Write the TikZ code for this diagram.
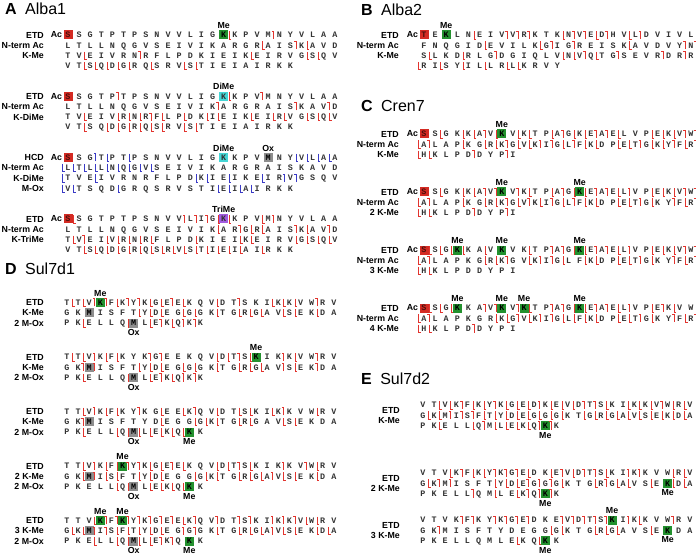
\documentclass[tikz,border=0pt]{standalone}
\usepackage{fontspec}
\setmainfont{Liberation Sans}
\newfontfamily\resfont{Liberation Mono}
\usetikzlibrary{positioning}

\definecolor{acred}{HTML}{D42B23}
\definecolor{megreen}{HTML}{23912E}
\definecolor{dimecyan}{HTML}{45D6D6}
\definecolor{trimepurple}{HTML}{A25BE0}
\definecolor{oxgray}{HTML}{8E8E8E}
\definecolor{etdred}{HTML}{E2342E}
\definecolor{hcdblue}{HTML}{3A3AC6}

% residue counter and box code of the next residue
\newcount\rescol
\newcount\boxcode
\def\resdx{11.12}
\def\fragh{3.9}
\def\fragw{2.2}
\def\fragcolor{etdred}

\tikzset{
  % one residue letter
  res/.style={font=\resfont\bfseries\fontsize{8.4}{9}\selectfont, text=black!80,
    inner sep=0pt, minimum width=9pt, minimum height=9pt, text height=5.6pt, text depth=0pt},
  % coloured box of a modified residue
  res box/.code={\ifcase\boxcode
    \or\pgfkeysalso{fill=acred, text=acred!35!black}%
    \or\pgfkeysalso{fill=megreen, text=black}%
    \or\pgfkeysalso{fill=dimecyan}%
    \or\pgfkeysalso{fill=trimepurple}%
    \or\pgfkeysalso{fill=oxgray, text=black}\fi},
  % fragment ion marks
  frag/.style={draw=\fragcolor, line width=0.75pt},
  rowlab/.style={font=\bfseries\fontsize{8.8}{10}\selectfont, anchor=east, inner sep=0pt},
  modlab/.style={font=\bfseries\fontsize{8.8}{10}\selectfont, inner sep=0pt},
  aclab/.style={font=\bfseries\fontsize{8.8}{10}\selectfont, inner sep=0pt},
  tag/.style={font=\bfseries\fontsize{16}{18}\selectfont, anchor=west, inner sep=0pt},
  protname/.style={font=\fontsize{16}{18}\selectfont, inner sep=0pt},
}

% one sequence row: name, x of first residue, y, residues
% upper case = residue, l = lower mark, u = upper mark, 1-5 = box of next residue
\newcommand\seqrow[4]{%
  \def\rowname{#1}\def\rowx{#2}\def\rowy{#3}%
  \global\rescol=0 \global\boxcode=0
  \readres#4\relax}
\def\readres#1{%
  \ifx#1\relax\let\seqnext\relax
  \else\def\seqnext{\doresidue#1\readres}\fi
  \seqnext}
\def\doresidue#1{%
  \if l#1\fraglo\else
  \if u#1\fragup\else
  \if 1#1\global\boxcode=1 \else
  \if 2#1\global\boxcode=2 \else
  \if 3#1\global\boxcode=3 \else
  \if 4#1\global\boxcode=4 \else
  \if 5#1\global\boxcode=5 \else
  \putres{#1}%
  \fi\fi\fi\fi\fi\fi\fi}
\newcommand\putres[1]{%
  \global\advance\rescol by 1
  \pgfmathsetmacro\rx{\rowx+(\the\rescol-1)*\resdx}%
  \node[res, res box] (\rowname c\the\rescol) at (\rx,\rowy) {#1};%
  \global\boxcode=0 }
\newcommand\fraglo{%
  \pgfmathsetmacro\mx{\rowx+(\the\rescol-0.5)*\resdx}%
  \draw[frag] (\mx,\rowy-\fragh) -- (\mx,\rowy+\fragh) -- ++(\fragw,0);}
\newcommand\fragup{%
  \pgfmathsetmacro\mx{\rowx+(\the\rescol-0.5)*\resdx}%
  \draw[frag] (\mx,\rowy+\fragh) -- (\mx,\rowy-\fragh) -- ++(-\fragw,0);}

\begin{document}
\begin{tikzpicture}[x=1pt,y=-1pt]
\useasboundingbox (0,0) rectangle (696,556);

%%%%% A  Alba1
\node[tag] (tagA) at (5,9) {A};
\node[protname, right=8pt of tagA] (nameA) {Alba1};

% ETD, K-Me
\seqrow{a1r1}{68}{35}{1SSGTPTPSNVVLIG2KlKPVMuNYVLAA}
\seqrow{a1r2}{68}{45.3}{LTLLNQGVSEIVIKARGRlAISuKlAVD}
\seqrow{a1r3}{68}{55.6}{TVlEIVRNuRFLPDKIEIKlEIRVGlSlQV}
\seqrow{a1r4}{68}{65.9}{VTlSlQlDlGlRQlSRVlSlTIEIAIRKK}
\node[aclab, left=1pt of a1r1c1] (acA1) {Ac};
\node[modlab, above=1.5pt of a1r1c15] (modA1) {Me};
\node[rowlab] (labA1a) at (44,35) {ETD};
\node[rowlab] (labA1b) at (44,45.3) {N-term Ac};
\node[rowlab] (labA1c) at (44,55.6) {K-Me};

% ETD, K-DiMe
\seqrow{a2r1}{68}{96.3}{1SSGTPuTPSNVVLIG3KlKPVuMNYVLAA}
\seqrow{a2r2}{68}{106.6}{LTLLNQGVSEIVIKuARGRAISuKAVuD}
\seqrow{a2r3}{68}{116.9}{TVlEIVlRlNlRuFlLPlDKlIlEIKlEIlRlVGlSlQlV}
\seqrow{a2r4}{68}{127.2}{VTlSQlDlGlRlQlSlRVlSlTIEIAIRKK}
\node[aclab, left=1pt of a2r1c1] (acA2) {Ac};
\node[modlab, above=1.5pt of a2r1c15] (modA2) {DiMe};
\node[rowlab] (labA2a) at (44,96.3) {ETD};
\node[rowlab] (labA2b) at (44,106.6) {N-term Ac};
\node[rowlab] (labA2c) at (44,116.9) {K-DiMe};

% HCD, K-DiMe, M-Ox
\def\fragcolor{hcdblue}
\seqrow{a3r1}{68}{157.6}{1SSGuTlPTlPSNVVLIG3KKPV5MNYlVlLlAlA}
\seqrow{a3r2}{68}{167.9}{lLlTlLlLlNlQlGlVlSEIVIKARGRAISKAVD}
\seqrow{a3r3}{68}{178.2}{lTVElIVRNRFLPDlKlIElIKElIRuVuGSQV}
\seqrow{a3r4}{68}{188.5}{lVlTSQDlGRQSRVSTIlElIlAlIRKK}
\def\fragcolor{etdred}
\node[aclab, left=1pt of a3r1c1] (acA3) {Ac};
\node[modlab, above=1.5pt of a3r1c15] (modA3a) {DiMe};
\node[modlab, above=1.5pt of a3r1c19] (modA3b) {Ox};
\node[rowlab] (labA3a) at (44,157.6) {HCD};
\node[rowlab] (labA3b) at (44,167.9) {N-term Ac};
\node[rowlab] (labA3c) at (44,178.2) {K-DiMe};
\node[rowlab] (labA3d) at (44,188.5) {M-Ox};

% ETD, K-TriMe
\seqrow{a4r1}{68}{219}{1SlSGTPTPSNVVuLuIuGl4KlKPVlMuNYVLAA}
\seqrow{a4r2}{68}{229.3}{LTLLNQGVSEIVIKlARuGlRlAISuKlAVuD}
\seqrow{a4r3}{68}{239.6}{TlVuEIlVlRlNlRlFLPDlKIEIlKlEIRVlGlSlQlV}
\seqrow{a4r4}{68}{249.9}{VTlSlQlDlGlRlQlSlRlVlSlTlIlElIlAIlRKK}
\node[aclab, left=1pt of a4r1c1] (acA4) {Ac};
\node[modlab, above=1.5pt of a4r1c15] (modA4) {TriMe};
\node[rowlab] (labA4a) at (44,219) {ETD};
\node[rowlab] (labA4b) at (44,229.3) {N-term Ac};
\node[rowlab] (labA4c) at (44,239.6) {K-TriMe};

%%%%% B  Alba2
\node[tag] (tagB) at (361,10) {B};
\node[protname, right=8pt of tagB] (nameB) {Alba2};
\seqrow{b1r1}{424}{35}{1TE2KLNlEIVuVuRuKTKlNuVuElDuHVlLuDVIVL}
\seqrow{b1r2}{424}{45.3}{FNQGIDlEVILKlGuIGuREISKlAVDVYuNu}
\seqrow{b1r3}{424}{55.6}{SlLKDlRLGuDGIQLVlNlVuQlTGuSEVRuDRuR}
\seqrow{b1r4}{424}{65.9}{lRIlSYlILlLRlLlKRVY}
\node[aclab, left=1pt of b1r1c1] (acB) {Ac};
\node[modlab, above=1.5pt of b1r1c3] (modB) {Me};
\node[rowlab] (labBa) at (399,35) {ETD};
\node[rowlab] (labBb) at (399,45.3) {N-term Ac};
\node[rowlab] (labBc) at (399,55.6) {K-Me};

%%%%% C  Cren7
\node[tag] (tagC) at (361,106) {C};
\node[protname, right=8pt of tagC] (nameC) {Cren7};

\seqrow{c1r1}{424}{134}{1SSlGKlKlAuVl2KVlKlTPlAuGlKlEuAuElLVPlElKlVuWu}
\seqrow{c1r2}{424}{144.3}{lAuLAPlKGlRlKuGlVlKuIuGlLuFlKlDPlElTuGlKlYuFlRu}
\seqrow{c1r3}{424}{154.6}{lHlKLPDuDYPuI}
\node[aclab, left=1pt of c1r1c1] (acC1) {Ac};
\node[modlab, above=1.5pt of c1r1c8] (modC1) {Me};
\node[rowlab] (labC1a) at (399,134) {ETD};
\node[rowlab] (labC1b) at (399,144.3) {N-term Ac};
\node[rowlab] (labC1c) at (399,154.6) {K-Me};

\seqrow{c2r1}{424}{192}{1SSlGKlKlAuVu2KVuKlTPlAuGl2KlEuAuElLuVPlElKlVuWu}
\seqrow{c2r2}{424}{202.3}{lAuLAPlKGlRlKuGlVuKlIuGlLuFlKlDPlElTuGlKYuFlRu}
\seqrow{c2r3}{424}{212.6}{lHlKLPDuDYPuI}
\node[aclab, left=1pt of c2r1c1] (acC2) {Ac};
\node[modlab, above=1.5pt of c2r1c8] (modC2a) {Me};
\node[modlab, above=1.5pt of c2r1c15] (modC2b) {Me};
\node[rowlab] (labC2a) at (399,192) {ETD};
\node[rowlab] (labC2b) at (399,202.3) {N-term Ac};
\node[rowlab] (labC2c) at (399,212.6) {2 K-Me};

\seqrow{c3r1}{424}{250}{1SlSlGl2KlKAlV2KVKlTPuAuGl2KlEuAuElLuVPlElKlVuWu}
\seqrow{c3r2}{424}{260.3}{lAuLAPKGlRlKuGVlKuIuGlLFlKlDPlElTuGlKYuFlRu}
\seqrow{c3r3}{424}{270.6}{lHlKLPDDYPI}
\node[aclab, left=1pt of c3r1c1] (acC3) {Ac};
\node[modlab, above=1.5pt of c3r1c4] (modC3a) {Me};
\node[modlab, above=1.5pt of c3r1c8] (modC3b) {Me};
\node[modlab, above=1.5pt of c3r1c15] (modC3c) {Me};
\node[rowlab] (labC3a) at (399,250) {ETD};
\node[rowlab] (labC3b) at (399,260.3) {N-term Ac};
\node[rowlab] (labC3c) at (399,270.6) {3 K-Me};

\seqrow{c4r1}{424}{308}{1SlSlGl2KKAuVu2KVu2KlTPuAuGl2KlEuAuElLuVPlEuKlVW}
\seqrow{c4r2}{424}{318.3}{lAuLAPKGRlKlGuVlKuIuGlLlFlKlDPlElTuGlKYuFlRu}
\seqrow{c4r3}{424}{328.6}{lHlKLPDuDYPI}
\node[aclab, left=1pt of c4r1c1] (acC4) {Ac};
\node[modlab, above=1.5pt of c4r1c4] (modC4a) {Me};
\node[modlab, above=1.5pt of c4r1c8] (modC4b) {Me};
\node[modlab, above=1.5pt of c4r1c10] (modC4c) {Me};
\node[modlab, above=1.5pt of c4r1c15] (modC4d) {Me};
\node[rowlab] (labC4a) at (399,308) {ETD};
\node[rowlab] (labC4b) at (399,318.3) {N-term Ac};
\node[rowlab] (labC4c) at (399,328.6) {4 K-Me};

%%%%% D  Sul7d1
\node[tag] (tagD) at (5,269) {D};
\node[protname, right=8pt of tagD] (nameD) {Sul7d1};

\seqrow{d1r1}{67}{302.5}{TlTlVu2KuFlKuYuKlGlEuElKQVlDTuSKIlKlKlVWuRV}
\seqrow{d1r2}{67}{312.8}{GK5MISFTlYlDlEGlGlGKlTGlRlGlAVlSlEKlDA}
\seqrow{d1r3}{67}{323.1}{PKlELLQl5MLlEuKlQuKuK}
\node[modlab, above=1.5pt of d1r1c4] (modD1a) {Me};
\node[modlab, below=1.5pt of d1r3c7] (modD1b) {Ox};
\node[rowlab] (labD1a) at (44,302.5) {ETD};
\node[rowlab] (labD1b) at (44,312.8) {K-Me};
\node[rowlab] (labD1c) at (44,323.1) {2 M-Ox};

\seqrow{d2r1}{67}{357}{TlTlVuKlFlKYKuGuEEKQVlDlTuSl2KIKuKlVWuRV}
\seqrow{d2r2}{67}{367.3}{GKu5MuISFTlYlDlEGlGlGKlTGlRlGlAVuSlEKuDA}
\seqrow{d2r3}{67}{377.6}{PKlELLQl5MLlEuKlQuKuK}
\node[modlab, above=1.5pt of d2r1c18] (modD2a) {Me};
\node[modlab, below=1.5pt of d2r3c7] (modD2b) {Ox};
\node[rowlab] (labD2a) at (44,357) {ETD};
\node[rowlab] (labD2b) at (44,367.3) {K-Me};
\node[rowlab] (labD2c) at (44,377.6) {2 M-Ox};

\seqrow{d3r1}{67}{411.5}{TTlVuKlFlKYuKGlEElKuQVlDTlSlKIlKuKVWlRV}
\seqrow{d3r2}{67}{421.8}{GKu5MISFTYDlEGGlGlKlTGlRlGAVlSlEKDA}
\seqrow{d3r3}{67}{432.1}{PKlELLlQl5MlLlElKlQl2KK}
\node[modlab, below=1.5pt of d3r3c7] (modD3a) {Ox};
\node[modlab, below=1.5pt of d3r3c12] (modD3b) {Me};
\node[rowlab] (labD3a) at (44,411.5) {ETD};
\node[rowlab] (labD3b) at (44,421.8) {K-Me};
\node[rowlab] (labD3c) at (44,432.1) {2 M-Ox};

\seqrow{d4r1}{67}{466}{TTlVuKlFl2KuYuKlGlEuElKQVlDlTuSlKIKuKVuWlRV}
\seqrow{d4r2}{67}{476.3}{GKl5MuIlSlFTlYlDlEGGlGlKlTGlRlGlAuVlSlEKlDA}
\seqrow{d4r3}{67}{486.6}{PKELLlQl5MLlElKlQl2KK}
\node[modlab, above=1.5pt of d4r1c6] (modD4a) {Me};
\node[modlab, below=1.5pt of d4r3c7] (modD4b) {Ox};
\node[modlab, below=1.5pt of d4r3c12] (modD4c) {Me};
\node[rowlab] (labD4a) at (44,466) {ETD};
\node[rowlab] (labD4b) at (44,476.3) {2 K-Me};
\node[rowlab] (labD4c) at (44,486.6) {2 M-Ox};

\seqrow{d5r1}{67}{520.5}{TTVl2KuFu2KuYuKuGuEuElKuQVuDTuSuKIuKuKuVlWlRV}
\seqrow{d5r2}{67}{530.8}{GlKl5MuIuSlFlTlYlDlEGuGuGKlTGlRlGlAuVlSlEKlDlA}
\seqrow{d5r3}{67}{541.1}{PKElLLlQl5MlLlEuKuQ2KK}
\node[modlab, above=1.5pt of d5r1c4] (modD5a) {Me};
\node[modlab, above=1.5pt of d5r1c6] (modD5b) {Me};
\node[modlab, below=1.5pt of d5r3c7] (modD5c) {Ox};
\node[modlab, below=1.5pt of d5r3c12] (modD5d) {Me};
\node[rowlab] (labD5a) at (44,520.5) {ETD};
\node[rowlab] (labD5b) at (44,530.8) {3 K-Me};
\node[rowlab] (labD5c) at (44,541.1) {2 M-Ox};

%%%%% E  Sul7d2
\node[tag] (tagE) at (361,379) {E};
\node[protname, right=8pt of tagE] (nameE) {Sul7d2};

\seqrow{e1r1}{423}{405}{VTlVlKuFlKlYuKlGlElDuKlElVlDuTuSlKIlKlKlVuWlRlV}
\seqrow{e1r2}{423}{415.3}{GlKlMuIuSuFlTlYlDlElGlGlGlKTlGlRlGlAlVlSlElKlDlA}
\seqrow{e1r3}{423}{425.6}{PKlELLlQuMlLlElKlQu2KuK}
\node[modlab, below=1.5pt of e1r3c12] (modE1) {Me};
\node[rowlab] (labE1a) at (400,410) {ETD};
\node[rowlab] (labE1b) at (400,420.5) {K-Me};

\seqrow{e2r1}{423}{473}{VTVlKuFlKlYuKuGuElDKlEuVlDuTuSlKIuKuKVWlRlV}
\seqrow{e2r2}{423}{483.3}{GlKuMuISFTlYlDlEuGuGuGlKTGlRuGlAlVSlE2KlDlA}
\seqrow{e2r3}{423}{493.6}{PKELLuQMlLElKuQu2KuK}
\node[modlab, below=1.5pt of e2r2c23] (modE2a) {Me};
\node[modlab, below=1.5pt of e2r3c12] (modE2b) {Me};
\node[rowlab] (labE2a) at (400,478) {ETD};
\node[rowlab] (labE2b) at (400,488.5) {2 K-Me};

\seqrow{e3r1}{423}{520}{VTVKuFuKYuKuGuEuDKEuVuDuTuSu2KIuKlKVWuRV}
\seqrow{e3r2}{423}{530.3}{GKuMISFTYDEGGlGlKTGlRlGlAVSlE2KDA}
\seqrow{e3r3}{423}{540.6}{PKELLQMLElKQl2KK}
\node[modlab, above=1.5pt of e3r1c18] (modE3a) {Me};
\node[modlab, below=1.5pt of e3r2c23] (modE3b) {Me};
\node[modlab, below=1.5pt of e3r3c12] (modE3c) {Me};
\node[rowlab] (labE3a) at (400,525) {ETD};
\node[rowlab] (labE3b) at (400,535.5) {3 K-Me};
\end{tikzpicture}
\end{document}
